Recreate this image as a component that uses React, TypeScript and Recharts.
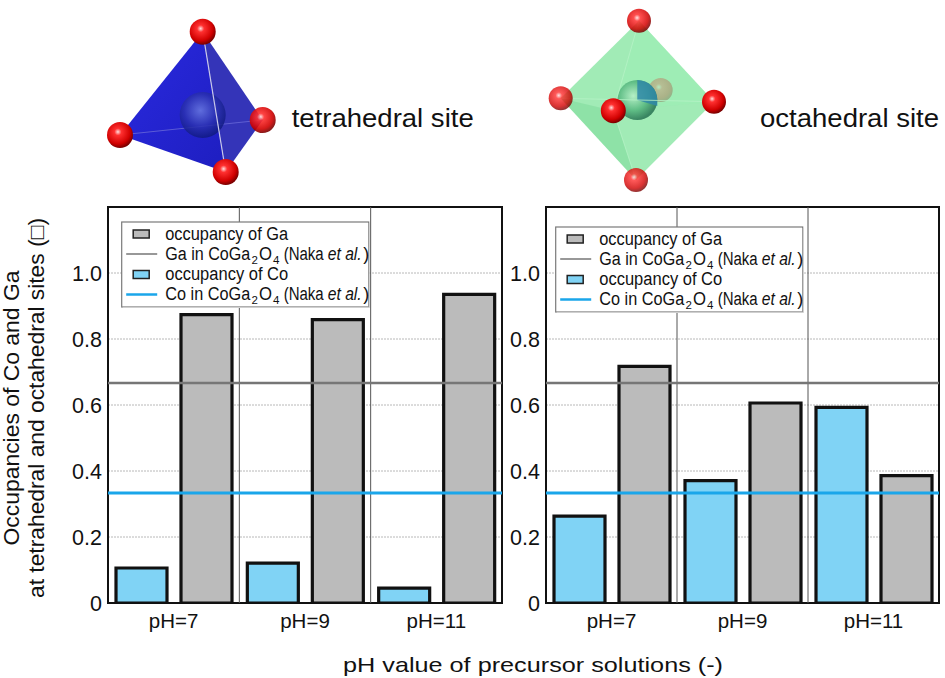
import React from "react";
import { Bar, BarChart, CartesianGrid, ReferenceArea, ReferenceLine, XAxis, YAxis } from "recharts";

const phLabels = ["pH=7", "pH=9", "pH=11"];
const tetraCo = [0.106, 0.121, 0.045];
const tetraGa = [0.874, 0.859, 0.935];
const octaCo = [0.263, 0.371, 0.593];
const octaGa = [0.717, 0.606, 0.386];
const yTicks = [0, 0.2, 0.4, 0.6, 0.8, 1.0];
const gaRef = 0.667;
const coRef = 0.333;
const boundaries = [1, 2];

const FONT = "'Liberation Sans', Arial, sans-serif";
const CO_FILL = "#80d3f5";
const GA_FILL = "#bbbbbb";
const CO_LINE = "#1aa6ea";
const GA_LINE = "#767676";

const fmt = (v: number) => (v === 0 ? "0" : v.toFixed(1));

function Panel({ co, ga, left, width, axisWidth, right }: any) {
  const rows = phLabels.map((ph, i) => ({ ph, idx: i + 0.5, co: co[i], ga: ga[i] }));
  return (
    <div style={{ position: "absolute", left, top: 0 }}>
      <BarChart
        width={width}
        height={678}
        data={rows}
        margin={{ top: 207, right, bottom: 0, left: 0 }}
        barCategoryGap={8}
        barGap={14}
      >
        <CartesianGrid vertical={false} stroke="#b8b8b8" strokeDasharray="2 1" />
        <XAxis
          dataKey="ph"
          height={75}
          interval={0}
          tickLine={false}
          axisLine={false}
          tickSize={6}
          tickMargin={4}
          tick={{ fontSize: 20.5, fill: "#111", fontFamily: FONT }}
        />
        <XAxis xAxisId="box" dataKey="idx" type="number" domain={[0, 3]} allowDataOverflow hide />
        <YAxis
          domain={[0, 1.2]}
          ticks={yTicks}
          width={axisWidth}
          tickLine={false}
          axisLine={false}
          tickMargin={0}
          tickFormatter={fmt}
          tick={{ fontSize: 21.5, fill: "#111", fontFamily: FONT }}
          allowDataOverflow
        />
        {boundaries.map((b) => (
          <ReferenceLine key={b} xAxisId="box" x={b} stroke="#555" strokeWidth={1} ifOverflow="visible" />
        ))}
        <Bar dataKey="co" fill={CO_FILL} stroke="#111" strokeWidth={3.2} isAnimationActive={false} />
        <Bar dataKey="ga" fill={GA_FILL} stroke="#111" strokeWidth={3.2} isAnimationActive={false} />
        <ReferenceLine y={gaRef} stroke={GA_LINE} strokeWidth={2.5} />
        <ReferenceLine y={coRef} stroke={CO_LINE} strokeWidth={3} />
        <ReferenceArea
          xAxisId="box"
          x1={0}
          x2={3}
          y1={0}
          y2={1.2}
          fill="none"
          fillOpacity={0}
          stroke="#111"
          strokeWidth={2}
          ifOverflow="visible"
        />
      </BarChart>
    </div>
  );
}

const legendItems = [
  { kind: "bar", color: GA_FILL, text: "occupancy of Ga" },
  { kind: "line", color: GA_LINE, text: "Ga in CoGa" },
  { kind: "bar", color: CO_FILL, text: "occupancy of Co" },
  { kind: "line", color: CO_LINE, text: "Co in CoGa" },
];
const legendBaselines = [17.5, 37.5, 58, 78];

function LegendBox({ x, y }: { x: number; y: number }) {
  return (
    <g transform={`translate(${x},${y})`} fontFamily={FONT} fill="#111">
      <rect x={0} y={0} width={247} height={85} fill="#fff" stroke="#7a7a7a" strokeWidth={1.2} />
      <line x1={1} x2={247.5} y1={85.5} y2={85.5} stroke="#cfcfcf" strokeWidth={1} />
      <line x1={247.5} x2={247.5} y1={1} y2={85.5} stroke="#cfcfcf" strokeWidth={1} />
      {legendItems.map((it, i) => {
        const by = legendBaselines[i];
        const cy = by - 5.5;
        return (
          <g key={i}>
            {it.kind === "bar" ? (
              <rect x={11.5} y={cy - 4} width={16} height={8} fill={it.color} stroke="#222" strokeWidth={1.5} />
            ) : (
              <line x1={4.5} x2={35.5} y1={cy} y2={cy} stroke={it.color} strokeWidth={it.color === CO_LINE ? 2.5 : 1.5} />
            )}
            {it.kind === "bar" ? (
              <text x={43.5} y={by} fontSize={18} textLength={123} lengthAdjust="spacingAndGlyphs">
                {it.text}
              </text>
            ) : (
              <>
                <text x={43.5} y={by} fontSize={18} textLength={85} lengthAdjust="spacingAndGlyphs">{it.text}</text>
                <text x={129.8} y={by + 4} fontSize={11.5}>2</text>
                <text x={137.3} y={by} fontSize={18} textLength={13} lengthAdjust="spacingAndGlyphs">O</text>
                <text x={151.2} y={by + 4} fontSize={11.5}>4</text>
                <text x={162} y={by} fontSize={18} textLength={40} lengthAdjust="spacingAndGlyphs">(Naka</text>
                <text x={206} y={by} fontSize={18} fontStyle="italic" textLength={34} lengthAdjust="spacingAndGlyphs">et al.</text>
                <text x={241.5} y={by} fontSize={18}>)</text>
              </>
            )}
          </g>
        );
      })}
    </g>
  );
}

function Sphere({ cx, cy, r, fill, opacity = 1 }: any) {
  return <circle cx={cx} cy={cy} r={r} fill={fill} opacity={opacity} />;
}

function Decorations() {
  return (
    <svg width={945} height={678} style={{ position: "absolute", left: 0, top: 0, pointerEvents: "none" }}>
      <defs>
        <radialGradient id="red" cx="42%" cy="38%" r="62%">
          <stop offset="0%" stopColor="#ffe0e0" />
          <stop offset="22%" stopColor="#ff3030" />
          <stop offset="75%" stopColor="#d00000" />
          <stop offset="100%" stopColor="#7a0000" />
        </radialGradient>
        <radialGradient id="blueAtom" cx="45%" cy="40%" r="60%">
          <stop offset="0%" stopColor="#6a7ae0" />
          <stop offset="60%" stopColor="#2a30b0" />
          <stop offset="100%" stopColor="#101a80" />
        </radialGradient>
        <radialGradient id="greenAtom" cx="40%" cy="40%" r="60%">
          <stop offset="0%" stopColor="#b8f0c8" />
          <stop offset="60%" stopColor="#58b880" />
          <stop offset="100%" stopColor="#2e7a58" />
        </radialGradient>
        <linearGradient id="tetFace" x1="0" y1="0" x2="1" y2="1">
          <stop offset="0%" stopColor="#2a2ae0" />
          <stop offset="100%" stopColor="#1e1ec0" />
        </linearGradient>
      </defs>

      {/* tetrahedron */}
      <polygon points="202.7,31.7 120,135 225.7,172" fill="url(#tetFace)" />
      <polygon points="202.7,31.7 262.7,120 225.7,172" fill="#3434b8" />
      <line x1={120} y1={135} x2={262.7} y2={120} stroke="#6a6ad8" strokeWidth={0.8} />
      <Sphere cx={202.7} cy={115} r={23} fill="url(#blueAtom)" opacity={0.85} />
      <line x1={202.7} y1={31.7} x2={225.7} y2={172} stroke="#c8c8e8" strokeWidth={1.2} />
      <Sphere cx={202.7} cy={31.7} r={13} fill="url(#red)" />
      <Sphere cx={120} cy={135} r={13} fill="url(#red)" />
      <Sphere cx={262.7} cy={120} r={13} fill="url(#red)" opacity={0.9} />
      <Sphere cx={225.7} cy={172} r={13} fill="url(#red)" />

      {/* octahedron */}
      <polygon points="639,20.7 560.7,98.3 636,180 714,101.7" fill="#8ae6a4" opacity={0.8} />
      <polygon points="639,20.7 613.3,110.7 714,101.7" fill="#9cefb4" opacity={0.5} />
      <polygon points="560.7,98.3 613.3,110.7 636,180" fill="#78d894" opacity={0.45} />
      <Sphere cx={660.7} cy={90} r={12} fill="url(#red)" opacity={0.25} />
      <Sphere cx={637.3} cy={100} r={20} fill="url(#greenAtom)" opacity={0.9} />
      <path d="M637.3,100 L637.3,80 A20,20 0 0 1 657.3,100 L657.3,106 Z" fill="#2f88a8" opacity={0.85} />
      <line x1={613.3} y1={110.7} x2={639} y2={20.7} stroke="#b6f2c6" strokeWidth={0.8} />
      <line x1={613.3} y1={110.7} x2={636} y2={180} stroke="#b6f2c6" strokeWidth={0.8} />
      <line x1={560.7} y1={98.3} x2={714} y2={101.7} stroke="#b6f2c6" strokeWidth={0.8} />
      <Sphere cx={639} cy={20.7} r={12} fill="url(#red)" opacity={0.85} />
      <Sphere cx={560.7} cy={98.3} r={12} fill="url(#red)" opacity={0.8} />
      <Sphere cx={714} cy={101.7} r={12} fill="url(#red)" />
      <Sphere cx={636} cy={180} r={12} fill="url(#red)" opacity={0.8} />
      <Sphere cx={613.3} cy={110.7} r={12.5} fill="url(#red)" />

      <g fontFamily={FONT} fill="#111">
        <text x={291.7} y={127.3} fontSize={26} textLength={182} lengthAdjust="spacingAndGlyphs">tetrahedral site</text>
        <text x={760} y={127.3} fontSize={26} textLength={179} lengthAdjust="spacingAndGlyphs">octahedral site</text>
        <text x={343} y={671.7} fontSize={21} textLength={380} lengthAdjust="spacingAndGlyphs">pH value of precursor solutions (-)</text>
        <text transform="translate(19,408) rotate(-90)" textAnchor="middle" fontSize={22} textLength={275} lengthAdjust="spacingAndGlyphs">
          Occupancies of Co and Ga
        </text>
        <text transform="translate(44,408) rotate(-90)" textAnchor="middle" fontSize={22} textLength={380} lengthAdjust="spacingAndGlyphs">
          at tetrahedral and octahedral sites (□)
        </text>
      </g>

      <LegendBox x={121.7} y={222} />
      <LegendBox x={555.7} y={227} />
    </svg>
  );
}

export default function App() {
  return (
    <div style={{ position: "absolute", left: 0, top: 0, width: 945, height: 678, background: "#fff", overflow: "hidden" }}>
      <Panel co={tetraCo} ga={tetraGa} left={0} width={512} axisWidth={108} right={10} />
      <Panel co={octaCo} ga={octaGa} left={505} width={440} axisWidth={41} right={6} />
      <Decorations />
    </div>
  );
}
